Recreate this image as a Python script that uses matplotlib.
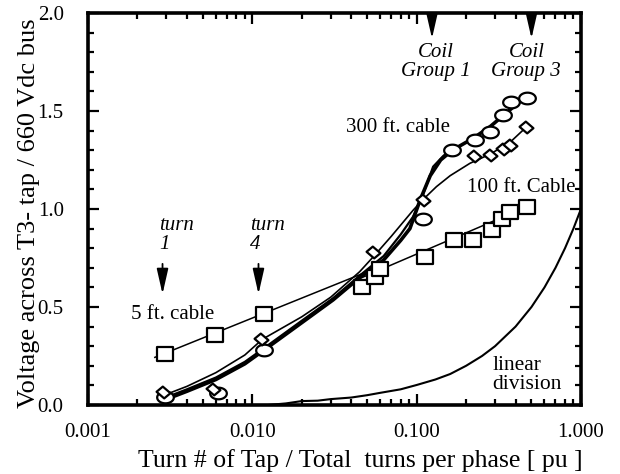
import numpy as np
import matplotlib
matplotlib.use("Agg")
import matplotlib.pyplot as plt
from matplotlib import ticker
from matplotlib.path import Path

plt.rcParams['font.family'] = ['Liberation Serif', 'DejaVu Serif']

# 5 ft. cable: measured taps and straight fit
cable5_x = [0.00293, 0.0059, 0.0118]
cable5_y = [0.26, 0.357, 0.463]
cable5_fit_x = [0.00255, 0.05]
cable5_fit_y = [0.243, 0.68]

# 100 ft. cable
cable100_x = [0.0463, 0.0558, 0.0599, 0.1125, 0.169, 0.221, 0.286, 0.330, 0.370, 0.468]
cable100_y = [0.604, 0.655, 0.692, 0.754, 0.842, 0.842, 0.893, 0.947, 0.986, 1.012]
cable100_fit_x = [0.045, 0.47]
cable100_fit_y = [0.645, 1.012]

# 300 ft. cable, two sets of measurements
circle_x = [0.00293, 0.0062, 0.0118, 0.110, 0.1636, 0.2267, 0.280, 0.337, 0.374, 0.468]
circle_y = [0.042, 0.062, 0.28, 0.947, 1.301, 1.352, 1.394, 1.480, 1.548, 1.565]
diamond_x = [0.00286, 0.0058, 0.01128, 0.0545, 0.110, 0.222, 0.278, 0.335, 0.372, 0.463]
diamond_y = [0.068, 0.08, 0.335, 0.782, 1.046, 1.27, 1.276, 1.304, 1.327, 1.42]

circle_fit_x = [0.0028, 0.004, 0.006, 0.009, 0.012, 0.02, 0.031, 0.045, 0.063, 0.08,
                0.091, 0.105, 0.121, 0.14, 0.165, 0.22, 0.28, 0.34, 0.47]
circle_fit_y = [0.02, 0.07, 0.13, 0.21, 0.285, 0.42, 0.536, 0.65, 0.74, 0.84,
                0.90, 1.046, 1.17, 1.25, 1.30, 1.36, 1.42, 1.48, 1.58]
circle_fit2_x = [0.0028, 0.004, 0.006, 0.009, 0.012, 0.02, 0.031, 0.045, 0.063, 0.08,
                 0.095, 0.11, 0.126, 0.145, 0.165]
circle_fit2_y = [0.03, 0.08, 0.14, 0.22, 0.295, 0.43, 0.545, 0.66, 0.76, 0.87,
                 0.96, 1.08, 1.216, 1.27, 1.31]
diamond_fit_x = [0.0028, 0.004, 0.006, 0.009, 0.0115, 0.02, 0.03, 0.045, 0.055, 0.07,
                 0.0955, 0.11, 0.132, 0.16, 0.211, 0.28, 0.37, 0.468]
diamond_fit_y = [0.045, 0.095, 0.165, 0.255, 0.335, 0.45, 0.55, 0.68, 0.76, 0.86,
                 0.995, 1.05, 1.114, 1.17, 1.233, 1.28, 1.34, 1.42]

# ideal linear division of voltage along the winding
linear_x = [0.0125, 0.016, 0.02, 0.025, 0.03, 0.04, 0.05, 0.06, 0.08, 0.1, 0.13, 0.16,
            0.2, 0.25, 0.3, 0.4, 0.5, 0.6, 0.7, 0.8, 0.9, 1.0]
linear_y = [0.0, 0.008, 0.02, 0.022, 0.03, 0.038, 0.05, 0.062, 0.08, 0.102, 0.13, 0.158,
            0.2, 0.25, 0.3, 0.4, 0.5, 0.6, 0.7, 0.8, 0.9, 1.0]

turn_x = [0.00284, 0.0109]
turn_text_x = [0.00272, 0.0097]
turn_labels = ['turn\n1', 'turn\n4']
coil_x = [0.124, 0.50]
coil_text_x = [0.131, 0.465]
coil_labels = ['Coil\nGroup 1', 'Coil\nGroup 3']

# slightly flattened marker shapes
t = np.linspace(0, 2 * np.pi, 40)
ellipse = Path(np.column_stack([np.cos(t), 0.7 * np.sin(t)]), closed=True)
box = Path([(-1, -0.8), (1, -0.8), (1, 0.8), (-1, 0.8), (-1, -0.8)], closed=True)
rhomb = Path([(0.1, -0.85), (1, -0.1), (-0.1, 0.85), (-1, 0.1), (0.1, -0.85)], closed=True)

fig = plt.figure(figsize=(6.2, 4.74), dpi=100)
ax = fig.add_axes([0.142, 0.1456, 0.795, 0.827])

ax.plot(linear_x, linear_y, color='black', lw=1.5, zorder=2)

ax.plot(cable5_fit_x, cable5_fit_y, color='black', lw=1.1, zorder=2)
ax.plot(cable100_fit_x, cable100_fit_y, color='black', lw=1.1, zorder=2)
ax.plot(diamond_fit_x, diamond_fit_y, color='black', lw=1.2, zorder=2)
ax.plot(circle_fit2_x, circle_fit2_y, color='black', lw=1.6, zorder=2)
ax.plot(circle_fit_x, circle_fit_y, color='black', lw=2.6, zorder=2)

mk = dict(linestyle='none', markerfacecolor='white', markeredgecolor='black',
          markeredgewidth=1.6, zorder=4, clip_on=False)
ax.plot(cable5_x, cable5_y, marker=box, markersize=12, **mk)
ax.plot(cable100_x, cable100_y, marker=box, markersize=12, **mk)
ax.plot(circle_x, circle_y, marker=ellipse, markersize=12, **mk)
ax.plot(diamond_x, diamond_y, marker=rhomb, markersize=10, **mk)

ax.set_xscale('log')
ax.set_xlim(0.001, 1.0)
ax.set_ylim(0.0, 2.0)
ax.xaxis.set_major_locator(ticker.FixedLocator([0.001, 0.01, 0.1, 1.0]))
ax.xaxis.set_major_formatter(ticker.FixedFormatter(['0.001', '0.010', '0.100', '1.000']))
ax.xaxis.set_minor_locator(ticker.LogLocator(base=10, subs=np.arange(2, 10), numticks=20))
ax.xaxis.set_minor_formatter(ticker.NullFormatter())
ax.yaxis.set_major_locator(ticker.MultipleLocator(0.5))
ax.yaxis.set_minor_locator(ticker.MultipleLocator(0.1))
ax.yaxis.set_major_formatter(ticker.FormatStrFormatter('%.1f'))

ax.tick_params(which='both', direction='in', top=True, right=True, labelsize=15, width=1.6)
ax.tick_params(which='major', length=8, pad=13)
ax.tick_params(which='minor', length=4)
ax.tick_params(axis='y', which='major', pad=17.5)
for sp in ax.spines.values():
    sp.set_linewidth(2.6)
    sp.set_zorder(3)

ax.set_xlabel('Turn # of Tap / Total  turns per phase [ pu ]', fontsize=18.5)
ax.set_ylabel('Voltage across T3- tap / 660 Vdc bus', fontsize=19)
ax.xaxis.set_label_coords(0.552, -0.113)
ax.yaxis.set_label_coords(-0.097, 0.49)

# curve labels
ax.text(0.0372, 1.418, '300 ft. cable', fontsize=15, va='center', ha='left')
ax.text(0.2025, 1.108, '100 ft. Cable', fontsize=15, va='center', ha='left')
ax.text(0.00182, 0.463, '5 ft. cable', fontsize=15, va='center', ha='left')
ax.text(0.290, 0.153, 'linear\ndivision', fontsize=15.5, va='center', ha='left',
        linespacing=0.95)

# turn markers
arrow = dict(arrowstyle='-|>,head_length=1.1,head_width=0.25', color='black',
             lw=1.3, mutation_scale=14, shrinkA=0, shrinkB=0)
for xv, tx, lab in zip(turn_x, turn_text_x, turn_labels):
    ax.annotate('', xy=(xv, 0.566), xytext=(xv, 0.72), arrowprops=arrow)
    ax.text(tx, 0.867, lab, fontsize=15, style='italic', ha='left',
            va='center', linespacing=1.05)

# coil group markers
for xv, tx, lab in zip(coil_x, coil_text_x, coil_labels):
    ax.annotate('', xy=(xv, 1.87), xytext=(xv, 2.0), arrowprops=arrow,
                annotation_clip=False)
    ax.text(tx, 1.752, lab, fontsize=15, style='italic', ha='center',
            va='center', linespacing=1.0)

fig.savefig('out.png', dpi=100, facecolor='white')
